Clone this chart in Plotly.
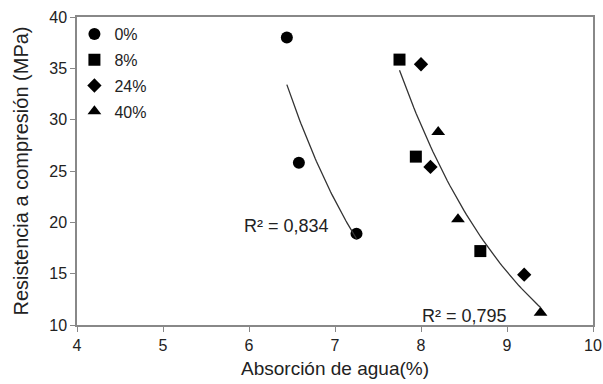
import numpy as np
import plotly.graph_objects as go

series_names = ["0%", "8%", "24%", "40%"]
x_0 = [6.44, 6.58, 7.25]
y_0 = [38.0, 25.8, 18.9]
x_8 = [7.75, 7.94, 8.69]
y_8 = [35.85, 26.4, 17.2]
x_24 = [8.0, 8.11, 9.2]
y_24 = [35.4, 25.4, 14.9]
x_40 = [8.2, 8.43, 9.39]
y_40 = [28.8, 20.3, 11.2]
symbols = ["circle", "square", "diamond", "triangle-up"]
sizes = [12, 12, 11, 12]

xs = [x_0, x_8, x_24, x_40]
ys = [y_0, y_8, y_24, y_40]

fig = go.Figure()
for i, name in enumerate(series_names):
    fig.add_trace(go.Scatter(
        x=xs[i], y=ys[i], mode="markers", name=name,
        legendgroup=name,
        marker=dict(symbol=symbols[i], size=sizes[i], color="black"),
    ))

def exp_trend(xv, yv):
    xv = np.array(xv); yv = np.array(yv)
    b, lna = np.polyfit(xv, np.log(yv), 1)
    xx = np.linspace(xv.min(), xv.max(), 60)
    return xx, np.exp(lna) * np.exp(b * xx)

tx1, ty1 = exp_trend(x_0, y_0)
tx2, ty2 = exp_trend(x_8 + x_24 + x_40, y_8 + y_24 + y_40)
for tx, ty in [(tx1, ty1), (tx2, ty2)]:
    fig.add_trace(go.Scatter(x=tx, y=ty, mode="lines", showlegend=False,
                             line=dict(color="#333333", width=1.3)))

fig.add_annotation(x=6.44, y=19.6, text="R² = 0,834", showarrow=False,
                   font=dict(size=18, color="#222222"))
fig.add_annotation(x=8.51, y=10.9, text="R² = 0,795", showarrow=False,
                   font=dict(size=18, color="#222222"))

axis_common = dict(showline=True, linecolor="#888888", linewidth=1.5, mirror=True,
                   ticks="outside", ticklen=5, tickcolor="#888888", showgrid=False,
                   zeroline=False, automargin=False,
                   tickfont=dict(size=16, color="#222222"))
fig.update_xaxes(range=[4, 10], dtick=1,
                 title=dict(text="Absorción de agua(%)", font=dict(size=19, color="#222222"), standoff=9),
                 **axis_common)
fig.update_yaxes(range=[10, 40], dtick=5,
                 title=dict(text="Resistencia a compresión (MPa)", font=dict(size=20, color="#222222"), standoff=15),
                 **axis_common)

fig.update_layout(
    width=603, height=384,
    margin=dict(l=77, r=10, t=17, b=59),
    paper_bgcolor="white", plot_bgcolor="white",
    font=dict(family="Liberation Sans, Arial, sans-serif", color="#222222"),
    showlegend=True,
    legend=dict(x=-0.005, y=1.0, xanchor="left", yanchor="top",
                bgcolor="rgba(0,0,0,0)", font=dict(size=16, color="#222222"),
                tracegroupgap=2, itemwidth=30),
)

fig.write_html("out.html",
               config={"displayModeBar": False},
               post_script="document.body.style.margin='0';document.body.style.overflow='hidden';")
